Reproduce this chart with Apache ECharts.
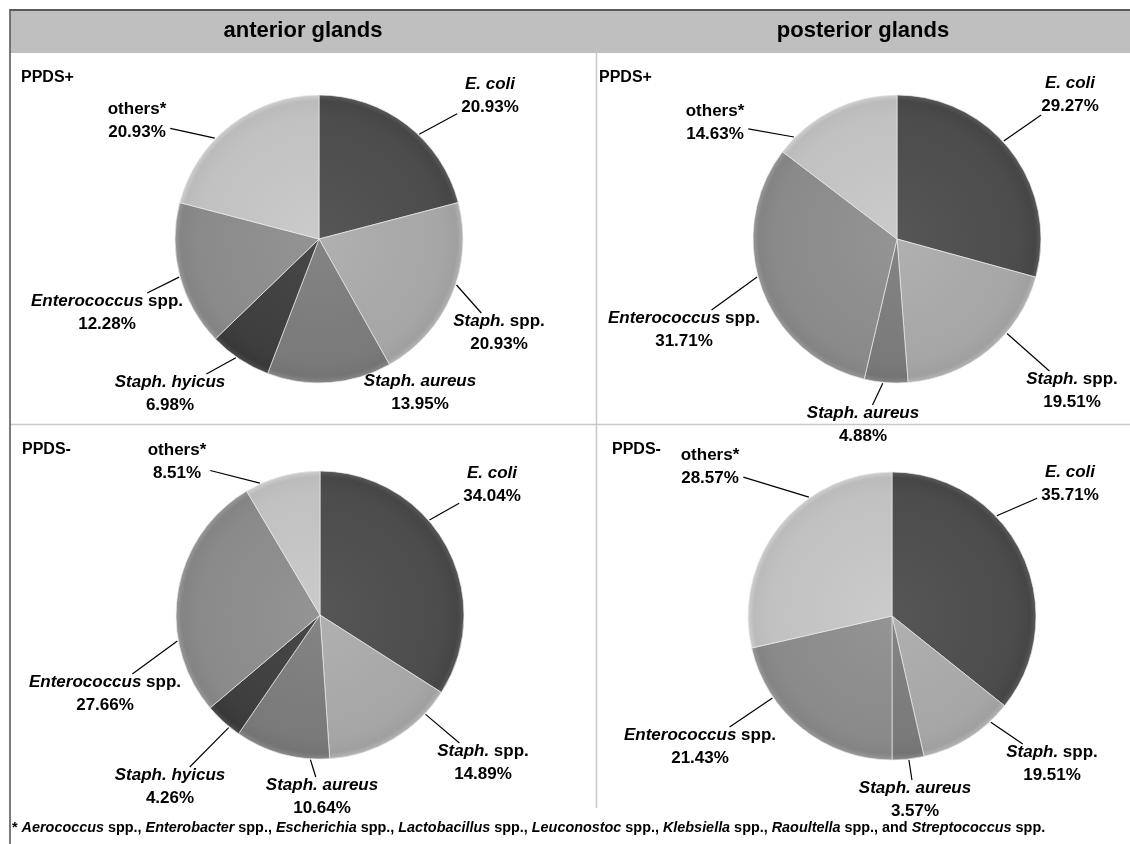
<!DOCTYPE html>
<html>
<head>
<meta charset="utf-8">
<script src="https://cdn.jsdelivr.net/npm/echarts@6/dist/echarts.min.js"></script>
<style>
html,body{margin:0;padding:0;background:#ffffff;}
#chart{width:1130px;height:844px;}
</style>
</head>
<body>
<div id="chart"></div>
<script>
// ---------------- data ----------------
const columnTitles = ['anterior glands', 'posterior glands'];
const rowTitles = ['PPDS+', 'PPDS-'];

const antPlusNames  = ['E. coli', 'Staph. spp.', 'Staph. aureus', 'Staph. hyicus', 'Enterococcus spp.', 'others*'];
const antPlusValues = [20.93, 20.93, 13.95, 6.98, 16.28, 20.93];
const antPlusText   = ['20.93%', '20.93%', '13.95%', '6.98%', '12.28%', '20.93%'];

const postPlusNames  = ['E. coli', 'Staph. spp.', 'Staph. aureus', 'Enterococcus spp.', 'others*'];
const postPlusValues = [29.27, 19.51, 4.88, 31.71, 14.63];
const postPlusText   = ['29.27%', '19.51%', '4.88%', '31.71%', '14.63%'];

const antMinusNames  = ['E. coli', 'Staph. spp.', 'Staph. aureus', 'Staph. hyicus', 'Enterococcus spp.', 'others*'];
const antMinusValues = [34.04, 14.89, 10.64, 4.26, 27.66, 8.51];
const antMinusText   = ['34.04%', '14.89%', '10.64%', '4.26%', '27.66%', '8.51%'];

const postMinusNames  = ['E. coli', 'Staph. spp.', 'Staph. aureus', 'Enterococcus spp.', 'others*'];
const postMinusValues = [35.71, 10.71, 3.57, 21.43, 28.57];
const postMinusText   = ['35.71%', '19.51%', '3.57%', '21.43%', '28.57%'];

const footnoteGenera = ['Aerococcus', 'Enterobacter', 'Escherichia', 'Lactobacillus', 'Leuconostoc', 'Klebsiella', 'Raoultella', 'Streptococcus'];

// ---------------- styles / layout ----------------
const FONT = '"Liberation Sans", Arial, Helvetica, sans-serif';
const R = 144;
const categoryColors = {
  'E. coli': '#4c4c4c',
  'Staph. spp.': '#a6a6a6',
  'Staph. aureus': '#7a7a7a',
  'Staph. hyicus': '#3e3e3e',
  'Enterococcus spp.': '#8a8a8a',
  'others*': '#c1c1c1'
};

// label block offsets from pie centre, and where (fraction of slice span) the leader line leaves the rim
const panels = [
  { names: antPlusNames, values: antPlusValues, text: antPlusText, center: [319, 239],
    labelPos: [[171, -143], [180, 94], [101, 154], [-149, 155], [-212, 74], [-182, -118]],
    lineAt: [0.58, 0.44, 0.2, 0.56, 0.49, 0.39] },
  { names: postPlusNames, values: postPlusValues, text: postPlusText, center: [897, 239],
    labelPos: [[173, -144], [175, 152], [-34, 186], [-213, 91], [-182, -116]],
    lineAt: [0.45, 0.36, 0.57, 0.54, 0.14] },
  { names: antMinusNames, values: antMinusValues, text: antMinusText, center: [320, 615],
    labelPos: [[172, -130], [163, 148], [2, 182], [-150, 172], [-215, 79], [-143, -153]],
    lineAt: [0.40, 0.2, 0.2, 0.3, 0.3, 0.2] },
  { names: postMinusNames, values: postMinusValues, text: postMinusText, center: [892, 616],
    labelPos: [[178, -132], [160, 148], [23, 184], [-192, 131], [-182, -149]],
    lineAt: [0.36, 0.22, 0.48, 0.72, 0.66] }
];

function shade(hex, amt) {
  const n = parseInt(hex.slice(1), 16);
  let r = (n >> 16) & 255, g = (n >> 8) & 255, b = n & 255;
  const f = v => Math.max(0, Math.min(255, Math.round(v + amt)));
  return 'rgb(' + f(r) + ',' + f(g) + ',' + f(b) + ')';
}

function richName(n) {
  if (n === 'others*') return '{b|others*}';
  if (n.endsWith(' spp.')) return '{i|' + n.slice(0, -5) + '}{b| spp.}';
  return '{i|' + n + '}';
}

// leader line: from the slice rim toward the label block, stopping just short of it
function lineFor(panel, di, lx, ly, w, h) {
  const cx = panel.center[0], cy = panel.center[1];
  const total = panel.values.reduce((a, b) => a + b, 0);
  let acc = 0;
  for (let k = 0; k < di; k++) acc += panel.values[k];
  const a0 = acc / total * 360, a1 = (acc + panel.values[di]) / total * 360;
  const ang = a0 + (a1 - a0) * panel.lineAt[di];
  const rad = ang * Math.PI / 180;
  const p0 = [cx + (R + 1) * Math.sin(rad), cy - (R + 1) * Math.cos(rad)];
  const g = 4;
  const bx0 = lx - w / 2 - g, bx1 = lx + w / 2 + g, by0 = ly - h / 2, by1 = ly + h / 2;
  const dx = lx - p0[0], dy = ly - p0[1];
  let tx = -Infinity, ty = -Infinity;
  if (dx > 0) tx = (bx0 - p0[0]) / dx; else if (dx < 0) tx = (bx1 - p0[0]) / dx;
  if (dy > 0) ty = (by0 - p0[1]) / dy; else if (dy < 0) ty = (by1 - p0[1]) / dy;
  let t = Math.max(tx, ty);
  if (!(t > 0)) t = 0;
  const p1 = [p0[0] + dx * t, p0[1] + dy * t];
  return [p0, p1, p1];
}

const series = panels.map((panel, si) => ({
  type: 'pie',
  center: panel.center,
  radius: R,
  startAngle: 90,
  clockwise: true,
  avoidLabelOverlap: false,
  animation: false,
  silent: true,
  itemStyle: { borderColor: 'rgba(235,235,235,0.85)', borderWidth: 0.8 },
  label: {
    show: true,
    position: 'outside',
    color: '#000',
    formatter: p => richName(p.name) + '\n{b|' + panel.text[p.dataIndex] + '}',
    rich: {
      i: { fontFamily: FONT, fontSize: 17, fontWeight: 'bold', fontStyle: 'italic', color: '#000', align: 'center', lineHeight: 23 },
      b: { fontFamily: FONT, fontSize: 17, fontWeight: 'bold', color: '#000', align: 'center', lineHeight: 23 }
    }
  },
  labelLine: { show: true, length: 30, length2: 0, smooth: false, lineStyle: { color: '#000', width: 1.2 } },
  labelLayout: function (p) {
    const off = panel.labelPos[p.dataIndex];
    const lx = panel.center[0] + off[0], ly = panel.center[1] + off[1];
    const w = p.labelRect.width, h = p.labelRect.height;
    return {
      x: lx, y: ly, align: 'center', verticalAlign: 'middle',
      labelLinePoints: lineFor(panel, p.dataIndex, lx, ly, w, h)
    };
  },
  data: panel.names.map((n, i) => {
    const base = categoryColors[n];
    return {
      name: n,
      value: panel.values[i],
      itemStyle: {
        color: {
          type: 'radial', x: panel.center[0], y: panel.center[1], r: R, global: true,
          colorStops: [
            { offset: 0, color: shade(base, 10) },
            { offset: 0.85, color: shade(base, 0) },
            { offset: 0.96, color: shade(base, -6) },
            { offset: 1, color: shade(base, 14) }
          ]
        }
      }
    };
  })
}));

// footnote rich text
const footRich = '{n|* }' + footnoteGenera.map((g, i) =>
  (i === footnoteGenera.length - 1 ? '{n|and }' : '') + '{it|' + g + '}{n| spp.' + (i === footnoteGenera.length - 1 ? '' : ', ') + '}'
).join('');

const graphic = [
  { type: 'rect', shape: { x: 10, y: 10, width: 1120, height: 43 }, style: { fill: '#bfbfbf' }, z: 0 },
  { type: 'line', shape: { x1: 10, y1: 10, x2: 1130, y2: 10 }, style: { stroke: '#5a5a5a', lineWidth: 2 }, z: 2 },
  { type: 'line', shape: { x1: 10, y1: 9, x2: 10, y2: 844 }, style: { stroke: '#5a5a5a', lineWidth: 1.6 }, z: 2 },
  { type: 'line', shape: { x1: 596.5, y1: 53, x2: 596.5, y2: 808 }, style: { stroke: '#c8c8c8', lineWidth: 1.5 }, z: 1 },
  { type: 'line', shape: { x1: 10, y1: 424.5, x2: 1130, y2: 424.5 }, style: { stroke: '#c8c8c8', lineWidth: 1.5 }, z: 1 },
  { type: 'text', x: 303, y: 31, style: { text: columnTitles[0], fill: '#000', font: 'bold 22px ' + FONT, align: 'center', verticalAlign: 'middle' }, z: 3 },
  { type: 'text', x: 863, y: 31, style: { text: columnTitles[1], fill: '#000', font: 'bold 22px ' + FONT, align: 'center', verticalAlign: 'middle' }, z: 3 },
  { type: 'text', x: 21, y: 78, style: { text: rowTitles[0], fill: '#000', font: 'bold 16px ' + FONT, verticalAlign: 'middle' }, z: 3 },
  { type: 'text', x: 599, y: 78, style: { text: rowTitles[0], fill: '#000', font: 'bold 16px ' + FONT, verticalAlign: 'middle' }, z: 3 },
  { type: 'text', x: 22, y: 450, style: { text: rowTitles[1], fill: '#000', font: 'bold 16px ' + FONT, verticalAlign: 'middle' }, z: 3 },
  { type: 'text', x: 612, y: 450, style: { text: rowTitles[1], fill: '#000', font: 'bold 16px ' + FONT, verticalAlign: 'middle' }, z: 3 },
  { type: 'text', x: 12, y: 828, style: {
      text: footRich, verticalAlign: 'middle',
      rich: {
        n: { fontFamily: FONT, fontSize: 14.4, fontWeight: 'bold', fill: '#000' },
        it: { fontFamily: FONT, fontSize: 14.4, fontWeight: 'bold', fontStyle: 'italic', fill: '#000' }
      }
    }, z: 3 }
];

const chart = echarts.init(document.getElementById('chart'), null, { renderer: 'canvas' });
chart.setOption({
  backgroundColor: '#ffffff',
  animation: false,
  graphic: graphic,
  series: series
});
</script>
</body>
</html>
